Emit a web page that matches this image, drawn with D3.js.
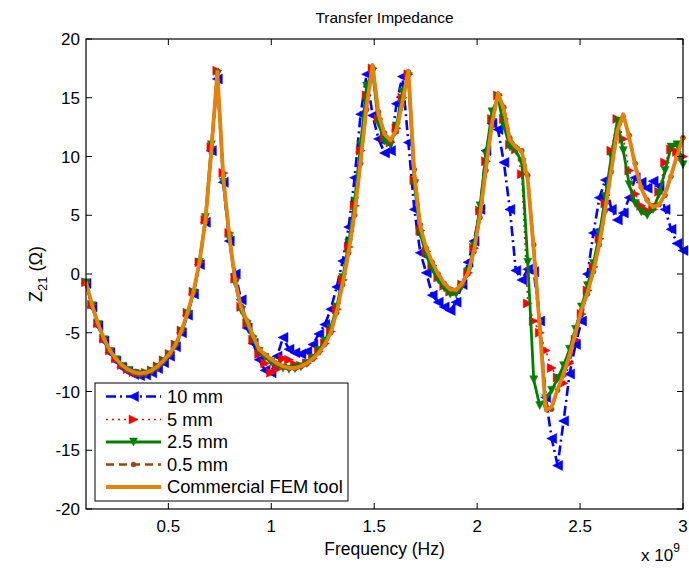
<!DOCTYPE html>
<html lang="en">
<head>
<meta charset="UTF-8">
<title>Transfer Impedance</title>
<script src="https://cdn.jsdelivr.net/npm/d3@7"></script>
<style>
body { margin: 0; background: #fff; }
svg { display: block; font-family: 'Liberation Sans', Arial, sans-serif; }
.tick-label { font-size: 17px; fill: #000; }
</style>
</head>
<body>
<div id="chart"></div>
<script>
// Frequency grid (x 10^9 Hz)
const freq = [
  0.100,0.129,0.158,0.187,0.216,0.245,0.274,0.303,0.332,0.361,
  0.390,0.419,0.448,0.477,0.506,0.535,0.564,0.593,0.622,0.651,
  0.680,0.709,0.738,0.767,0.796,0.825,0.854,0.883,0.912,0.941,
  0.970,0.999,1.028,1.057,1.086,1.115,1.144,1.173,1.202,1.231,
  1.260,1.289,1.318,1.347,1.376,1.405,1.434,1.463,1.492,1.521,
  1.550,1.579,1.608,1.637,1.666,1.695,1.724,1.753,1.782,1.811,
  1.840,1.869,1.898,1.927,1.956,1.985,2.014,2.043,2.072,2.101,
  2.130,2.159,2.188,2.217,2.246,2.275,2.304,2.333,2.362,2.391,
  2.420,2.449,2.478,2.507,2.536,2.565,2.594,2.623,2.652,2.681,
  2.710,2.739,2.768,2.797,2.826,2.855,2.884,2.913,2.942,2.971,3.000
];

// Z21 (Ohm) per mesh size
const z10mm = [
  -0.8,-2.8,-4.4,-5.7,-6.7,-7.4,-7.95,-8.3,-8.55,-8.65,
  -8.6,-8.4,-8.05,-7.55,-7.0,-6.2,-5.0,-3.5,-1.7,0.8,
  4.4,10.5,16.6,7.8,2.8,0.0,-2.2,-4.6,-5.9,-7.3,
  -8.2,-8.4,-7.0,-5.4,-6.4,-6.7,-6.8,-6.6,-6.0,-5.1,
  -4.3,-3.0,-1.1,1.1,4.0,8.2,13.6,17.0,13.5,11.5,
  10.3,10.5,14.5,16.8,11.2,5.5,1.8,0.1,-1.8,-2.4,
  -2.8,-3.1,-2.4,-0.9,1.0,2.8,5.5,10.5,12.8,12.3,
  9.5,5.5,0.3,-0.5,0.4,0.2,-4.0,-10.5,-14.0,-16.3,
  -12.5,-8.5,-6.0,-4.0,0.0,3.5,6.5,8.0,5.5,4.6,
  5.2,6.5,8.2,7.8,7.3,7.9,7.5,5.5,3.8,2.6,2.0
];
const z5mm = [
  -0.7,-2.6,-4.2,-5.5,-6.5,-7.2,-7.75,-8.1,-8.35,-8.45,
  -8.4,-8.2,-7.85,-7.35,-6.8,-6.0,-4.8,-3.3,-1.5,1.0,
  4.6,10.8,17.3,8.6,3.5,-0.4,-2.8,-4.2,-5.6,-6.8,
  -7.6,-8.4,-8.1,-7.2,-7.3,-7.7,-7.8,-7.6,-7.2,-6.6,
  -5.9,-4.9,-3.0,-0.5,2.3,5.8,10.5,15.2,17.5,13.2,
  11.6,11.2,12.4,15.0,17.0,8.0,3.7,1.9,0.7,-0.3,
  -1.0,-1.5,-1.5,-0.9,0.1,2.2,5.4,9.6,13.2,15.2,
  13.2,11.0,10.6,8.5,-2.5,-4.0,-5.0,-6.5,-8.0,-8.8,
  -9.3,-7.6,-5.6,-3.4,-1.4,0.6,3.0,6.0,10.5,13.2,
  11.5,8.8,6.8,5.8,5.4,5.5,7.0,9.5,10.6,10.4,10.0
];
const z2p5mm = [
  -0.75,-2.7,-4.3,-5.6,-6.6,-7.3,-7.85,-8.2,-8.45,-8.55,
  -8.5,-8.3,-7.95,-7.45,-6.9,-6.1,-4.9,-3.4,-1.6,1.0,
  4.8,11.0,17.0,7.8,3.0,-0.8,-3.1,-4.3,-5.6,-6.6,
  -7.1,-7.5,-7.8,-8.0,-8.1,-8.05,-7.9,-7.6,-7.15,-6.5,
  -5.7,-4.6,-2.8,-0.3,2.6,6.2,11.0,16.0,17.2,12.8,
  11.3,11.0,12.6,15.5,16.8,7.6,3.4,1.6,0.4,-0.5,
  -1.2,-1.7,-1.7,-1.0,0.2,2.4,5.8,10.2,13.8,15.0,
  12.6,10.8,10.5,9.5,1.0,-9.0,-11.2,-10.6,-9.9,-8.9,
  -7.8,-6.4,-4.7,-2.8,-1.0,0.9,3.4,6.6,10.0,13.0,
  10.5,7.6,6.0,5.3,5.0,5.5,6.8,8.8,10.8,11.0,9.3
];
const z0p5mm = [
  -0.7,-2.6,-4.25,-5.55,-6.5,-7.25,-7.8,-8.15,-8.4,-8.5,
  -8.45,-8.25,-7.9,-7.4,-6.85,-6.05,-4.9,-3.35,-1.6,0.9,
  4.4,10.3,17.3,8.4,3.4,-0.5,-2.8,-4.0,-5.3,-6.4,
  -6.9,-7.3,-7.65,-7.9,-8.05,-8.05,-7.9,-7.65,-7.25,-6.7,
  -6.0,-5.0,-3.3,-0.9,1.8,5.0,9.4,14.0,17.6,13.8,
  12.0,11.3,12.1,14.4,17.2,8.9,4.2,2.2,1.0,0.0,
  -0.8,-1.3,-1.4,-0.9,0.0,1.9,4.8,8.8,12.6,15.3,
  14.2,11.6,10.8,10.5,8.4,2.5,-4.0,-11.2,-11.5,-9.9,
  -8.6,-7.0,-5.1,-3.1,-1.7,0.2,2.5,5.4,8.7,12.0,
  13.4,11.8,9.4,7.4,6.3,5.8,5.9,6.7,8.3,10.0,11.6
];
const zFem = [
  -0.7,-2.6,-4.2,-5.5,-6.5,-7.2,-7.75,-8.1,-8.35,-8.45,
  -8.4,-8.2,-7.85,-7.35,-6.8,-6.0,-4.8,-3.3,-1.5,1.0,
  4.5,10.5,17.2,8.2,3.3,-0.6,-2.9,-4.0,-5.3,-6.4,
  -6.85,-7.25,-7.6,-7.85,-8.0,-8.0,-7.85,-7.6,-7.2,-6.7,
  -6.0,-5.0,-3.2,-0.8,1.9,5.2,9.6,14.3,17.8,13.6,
  11.9,11.4,12.25,14.6,17.3,8.5,4.0,2.2,1.0,0.0,
  -0.8,-1.3,-1.35,-0.8,0.1,2.0,5.0,9.0,12.8,15.4,
  14.0,11.4,10.8,10.4,8.0,2.0,-4.5,-11.6,-11.3,-9.8,
  -8.5,-6.9,-5.0,-3.0,-1.6,0.3,2.6,5.6,8.9,12.2,
  13.6,11.6,9.2,7.3,6.2,5.7,5.9,6.8,8.4,10.1,11.6
];

const seriesNames = ["10 mm", "5 mm", "2.5 mm", "0.5 mm", "Commercial FEM tool"];
const xTicks = [0.5, 1, 1.5, 2, 2.5, 3];
const yTicks = [-20, -15, -10, -5, 0, 5, 10, 15, 20];

const width = 689, height = 568;
const mLeft = 86, mRight = 683, mTop = 39, mBottom = 509;

const x = d3.scaleLinear().domain([0.1, 3]).range([mLeft, mRight]);
const y = d3.scaleLinear().domain([-20, 20]).range([mBottom, mTop]);

const styles = [
  { data: z10mm, color: "#0000ff", width: 2.6, dash: "10,4,2,4", marker: "left", size: 10 },
  { data: z5mm, color: "#ff0000", width: 1.5, dash: "2,4", marker: "right", size: 9 },
  { data: z2p5mm, color: "#008000", width: 2.8, dash: null, marker: "down", size: 8 },
  { data: z0p5mm, color: "#a0420e", width: 2.6, dash: "8,5", marker: "dot", size: 5 },
  { data: zFem, color: "#e4820c", width: 3.8, dash: null, marker: null, size: 0 }
];

const svg = d3.select("#chart").append("svg")
  .attr("width", width).attr("height", height);

svg.append("rect").attr("width", width).attr("height", height).attr("fill", "#fff");

// marker shapes
function markerPath(type, s) {
  const h = s / 2;
  if (type === "left") return `M${-h},0L${h},${-h}L${h},${h}Z`;
  if (type === "right") return `M${h},0L${-h},${-h}L${-h},${h}Z`;
  if (type === "down") return `M0,${h}L${-h},${-h}L${h},${-h}Z`;
  if (type === "dot") return d3.symbol(d3.symbolCircle, Math.PI * h * h)();
  return "";
}

const line = d3.line().x((d, i) => x(freq[i])).y(d => y(d));

const plot = svg.append("g");

styles.forEach(s => {
  plot.append("path")
    .datum(s.data)
    .attr("fill", "none")
    .attr("stroke", s.color)
    .attr("stroke-width", s.width)
    .attr("stroke-dasharray", s.dash)
    .attr("stroke-linejoin", "round")
    .attr("d", line);
  if (s.marker) {
    plot.append("g").selectAll("path")
      .data(s.data)
      .enter().append("path")
      .attr("transform", (d, i) => `translate(${x(freq[i])},${y(d)})`)
      .attr("d", markerPath(s.marker, s.size))
      .attr("fill", s.color)
      .attr("stroke", s.color)
      .attr("stroke-width", 0.5);
  }
});

// axes box and ticks (MATLAB style, ticks inward on all sides)
const axes = svg.append("g");
axes.append("rect")
  .attr("x", mLeft).attr("y", mTop)
  .attr("width", mRight - mLeft).attr("height", mBottom - mTop)
  .attr("fill", "none").attr("stroke", "#000").attr("stroke-width", 1.2);

const tickLen = 6;
xTicks.forEach(t => {
  axes.append("line").attr("x1", x(t)).attr("x2", x(t)).attr("y1", mBottom).attr("y2", mBottom - tickLen).attr("stroke", "#000");
  axes.append("line").attr("x1", x(t)).attr("x2", x(t)).attr("y1", mTop).attr("y2", mTop + tickLen).attr("stroke", "#000");
  axes.append("text").attr("class", "tick-label")
    .attr("x", x(t)).attr("y", mBottom + 23)
    .attr("text-anchor", "middle").text(t);
});
yTicks.forEach(t => {
  axes.append("line").attr("x1", mLeft).attr("x2", mLeft + tickLen).attr("y1", y(t)).attr("y2", y(t)).attr("stroke", "#000");
  axes.append("line").attr("x1", mRight).attr("x2", mRight - tickLen).attr("y1", y(t)).attr("y2", y(t)).attr("stroke", "#000");
  axes.append("text").attr("class", "tick-label")
    .attr("x", mLeft - 6).attr("y", y(t) + 6)
    .attr("text-anchor", "end").text(t);
});

// exponent label
const expo = svg.append("text").attr("x", 641).attr("y", 561).attr("font-size", 17);
expo.append("tspan").text("x 10");
expo.append("tspan").attr("dy", -9).attr("font-size", 12).text("9");

// title and axis labels
svg.append("text").attr("x", (mLeft + mRight) / 2).attr("y", 23)
  .attr("text-anchor", "middle").attr("font-size", 15.5).text("Transfer Impedance");
svg.append("text").attr("x", (mLeft + mRight) / 2).attr("y", 555)
  .attr("text-anchor", "middle").attr("font-size", 17.5).text("Frequency (Hz)");
const ylab = svg.append("text")
  .attr("transform", `translate(42,${(mTop + mBottom) / 2}) rotate(-90)`)
  .attr("text-anchor", "middle").attr("font-size", 18);
ylab.append("tspan").text("Z");
ylab.append("tspan").attr("dy", 5).attr("font-size", 13).text("21");
ylab.append("tspan").attr("dy", -5).text(" (Ω)");

// legend
const lg = svg.append("g");
const lgX = 95, lgY = 383, lgW = 253, lgH = 118;
lg.append("rect").attr("x", lgX).attr("y", lgY).attr("width", lgW).attr("height", lgH)
  .attr("fill", "#fff").attr("stroke", "#000").attr("stroke-width", 1);
const rowY = [396.5, 419.5, 442, 464.5, 487];
styles.forEach((s, i) => {
  lg.append("line")
    .attr("x1", 106).attr("x2", 161).attr("y1", rowY[i]).attr("y2", rowY[i])
    .attr("stroke", s.color).attr("stroke-width", s.width)
    .attr("stroke-dasharray", s.dash);
  if (s.marker) {
    lg.append("path")
      .attr("transform", `translate(133.5,${rowY[i]})`)
      .attr("d", markerPath(s.marker, s.size))
      .attr("fill", s.color).attr("stroke", s.color).attr("stroke-width", 0.5);
  }
  lg.append("text").attr("x", 167).attr("y", rowY[i] + 6)
    .attr("font-size", 18.3).text(seriesNames[i]);
});
</script>
</body>
</html>
